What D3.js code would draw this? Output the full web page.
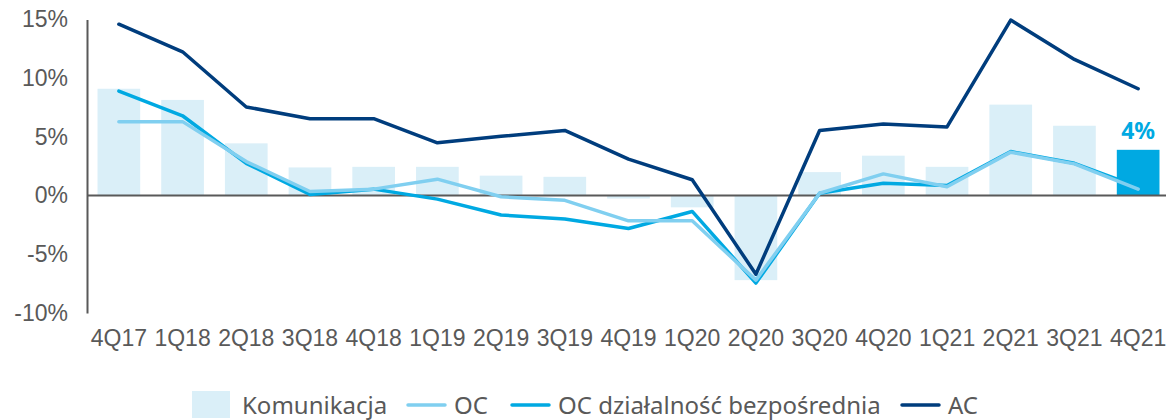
<!DOCTYPE html>
<meta charset="utf-8">
<title>Komunikacja</title>
<style>
body { margin: 0; background: #fff; }
svg { font-family: "Noto Sans", sans-serif; }
.axis text { fill: #595959; font-size: 23px; }
.axis path, .axis line { stroke: #595959; }
</style>
<body>
<script src="https://d3js.org/d3.v7.min.js"></script>
<script>

var quarters = ["4Q17","1Q18","2Q18","3Q18","4Q18","1Q19","2Q19","3Q19","4Q19","1Q20","2Q20","3Q20","4Q20","1Q21","2Q21","3Q21","4Q21"];
var komunikacja = [9.1, 8.15, 4.45, 2.4, 2.45, 2.45, 1.7, 1.6, -0.25, -1.0, -7.2, 2.0, 3.4, 2.45, 7.75, 5.95, 3.9];
var oc = [6.3, 6.3, 2.9, 0.35, 0.55, 1.4, -0.1, -0.4, -2.15, -2.15, -7.2, 0.2, 1.85, 0.75, 3.7, 2.7, 0.55];
var ocDz = [8.9, 6.8, 2.75, 0.1, 0.55, -0.3, -1.65, -2.0, -2.8, -1.35, -7.45, 0.2, 1.05, 0.85, 3.75, 2.75, 0.75];
var ac = [14.6, 12.25, 7.55, 6.55, 6.55, 4.5, 5.05, 5.55, 3.1, 1.35, -6.7, 5.55, 6.1, 5.85, 14.95, 11.6, 9.1];
var yTicks = [-10, -5, 0, 5, 10, 15];

var width = 1166, height = 420;

var x = d3.scaleBand()
    .domain(quarters)
    .range([87, 1170])
    .paddingInner(0.33)
    .paddingOuter(0.165);

var y = d3.scaleLinear()
    .domain([-10, 15])
    .range([313, 19.5]);

var svg = d3.select("body").append("svg")
    .attr("width", width)
    .attr("height", height);

// bars
svg.append("g").selectAll("rect")
    .data(komunikacja)
  .enter().append("rect")
    .attr("x", function(d, i) { return x(quarters[i]); })
    .attr("width", x.bandwidth())
    .attr("y", function(d) { return y(Math.max(0, d)); })
    .attr("height", function(d) { return Math.abs(y(d) - y(0)); })
    .attr("fill", function(d, i) { return i == quarters.length - 1 ? "#00a9e2" : "#daeff8"; });

// y axis
var yAxis = d3.axisLeft(y)
    .tickValues(yTicks)
    .tickSize(0)
    .tickPadding(19)
    .tickFormat(function(d) { return d + "%"; });

var gy = svg.append("g")
    .attr("class", "axis")
    .attr("transform", "translate(87,0)")
    .call(yAxis);
gy.select(".domain").attr("stroke-width", 2);

// zero line
svg.append("line")
    .attr("x1", 87).attr("x2", width)
    .attr("y1", y(0)).attr("y2", y(0))
    .attr("stroke", "#595959")
    .attr("stroke-width", 2);

// x labels
var xAxis = d3.axisBottom(x).tickSize(0).tickPadding(0);
var gx = svg.append("g")
    .attr("class", "axis")
    .attr("transform", "translate(0,330)")
    .call(xAxis);
gx.select(".domain").remove();

var line = d3.line()
    .x(function(d, i) { return x(quarters[i]) + x.bandwidth() / 2; })
    .y(function(d) { return y(d); });

var series = [
  {values: ocDz, color: "#00a9e2"},
  {values: oc, color: "#80cff0"},
  {values: ac, color: "#003d7d"}
];

svg.append("g").selectAll("path")
    .data(series)
  .enter().append("path")
    .attr("d", function(d) { return line(d.values); })
    .attr("fill", "none")
    .attr("stroke", function(d) { return d.color; })
    .attr("stroke-width", 3.5)
    .attr("stroke-linecap", "round")
    .attr("stroke-linejoin", "round");

// highlight label
var last = quarters.length - 1;
svg.append("text")
    .attr("x", x(quarters[last]) + x.bandwidth() / 2)
    .attr("y", y(komunikacja[last]) - 11)
    .attr("text-anchor", "middle")
    .attr("font-size", 23)
    .attr("font-weight", "bold")
    .attr("fill", "#00a9e2")
    .text(Math.round(komunikacja[last]) + "%");

// legend
var legend = svg.append("g").attr("font-size", 24).attr("fill", "#595959");
legend.append("rect")
    .attr("x", 192).attr("y", 391).attr("width", 38).attr("height", 27)
    .attr("fill", "#daeff8");
legend.append("text").attr("x", 242).attr("y", 414).text("Komunikacja");

var legendLines = [
  {x: 408, label: "OC", color: "#80cff0"},
  {x: 512, label: "OC działalność bezpośrednia", color: "#00a9e2"},
  {x: 902, label: "AC", color: "#003d7d"}
];
legendLines.forEach(function(d) {
  legend.append("line")
      .attr("x1", d.x).attr("x2", d.x + 37)
      .attr("y1", 405).attr("y2", 405)
      .attr("stroke", d.color)
      .attr("stroke-width", 3.5)
      .attr("stroke-linecap", "round");
  legend.append("text").attr("x", d.x + 46).attr("y", 414).text(d.label);
});

</script>
